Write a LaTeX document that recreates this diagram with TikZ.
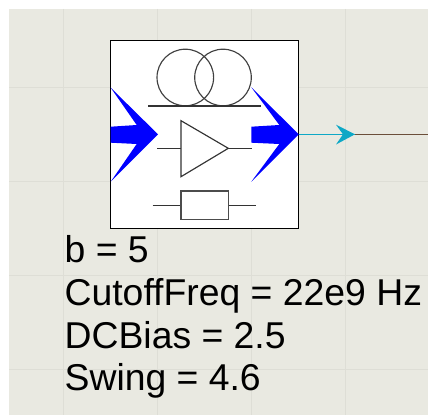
\documentclass[tikz,border=0pt]{standalone}
\usepackage{fontspec}
\setmainfont{Liberation Sans}
\definecolor{canvasbg}{HTML}{E9E9E1}
\definecolor{gridline}{HTML}{DEDED6}
\definecolor{wirecyan}{HTML}{0EA8C6}
\definecolor{wirebrown}{HTML}{6B4F3A}
\tikzset{
  symbolbox/.style={draw=black, fill=white, line width=0.7pt, minimum size=3.76cm, inner sep=0pt},
  fibreloop/.style={draw=black!75, line width=0.65pt, circle, minimum size=1.132cm, inner sep=0pt},
  resistorbox/.style={draw=black!70, line width=0.75pt, minimum width=0.946cm, minimum height=0.566cm, inner sep=0pt},
  symline/.style={draw=black!80, line width=0.65pt},
  paramtext/.style={anchor=base west, inner sep=0pt, font=\fontsize{21.25}{24}\selectfont, text=black}
}

\begin{document}
\begin{tikzpicture}[x=0.02cm, y=-0.02cm]
  \useasboundingbox (0,0) rectangle (428,415);
  \fill[canvasbg] (9,9) rectangle (428,415);

  % grid
  \foreach \gx in {63,157,251,345} {
    \draw[gridline, line width=0.5pt] (\gx,9) -- (\gx,415);
  }
  \foreach \gy in {87,181,275,369} {
    \draw[gridline, line width=0.5pt] (9,\gy) -- (428,\gy);
  }

  % component body
  \node[symbolbox] (body) at (204.7,134.5) {};

  % fibre symbol
  \node[fibreloop] (loopa) at (185.3,77.5) {};
  \node[fibreloop] (loopb) at (223,77.5) {};
  \draw[symline] (148.3,106) -- (260.7,106);

  % amplifier symbol
  \coordinate (ampin) at (157.3,148.3);
  \coordinate (ampout) at (251.7,148.3);
  \draw[symline] (181,120.7) -- (228.3,148.3) -- (181,176.7) -- cycle;
  \draw[symline] (ampin) -- (181,148.3);
  \draw[symline] (228.3,148.3) -- (ampout);

  % resistor symbol
  \node[resistorbox] (res) at (204.7,205.2) {};
  \coordinate (resin) at (152.7,205.2);
  \coordinate (resout) at (256.3,205.2);
  \draw[symline] (resin) -- (res.west);
  \draw[symline] (res.east) -- (resout);

  % ports
  \fill[blue] (110.7,87.7) -- (158,134.3) -- (110.7,181.7) -- (136.7,144) -- (110.7,142.7)
    -- (110.7,126.7) -- (136.7,125) -- cycle;
  \fill[blue] (251.3,87.3) -- (298.7,134.3) -- (251.3,181.7) -- (279.3,144) -- (251.3,142.7)
    -- (251.3,126.7) -- (279.3,125) -- cycle;

  % output wire
  \coordinate (wiretip) at (355,134.3);
  \coordinate (wireend) at (428,134.3);
  \draw[wirebrown, line width=0.65pt] (wiretip) -- (wireend);
  \draw[wirecyan, line width=0.65pt] (body.east |- wiretip) -- (wiretip);
  \fill[wirecyan] (wiretip) -- (336,144.5) -- (343,134.3) -- (336,124.7) -- cycle;

  % parameters
  \node[paramtext] (pb) at (64.3,262.5) {b = 5};
  \node[paramtext] (pcut) at (64.3,305.8) {CutoffFreq = 22e9 Hz};
  \node[paramtext] (pbias) at (64.3,348) {DCBias = 2.5};
  \node[paramtext] (pswing) at (64.3,390) {Swing = 4.6};
\end{tikzpicture}
\end{document}
